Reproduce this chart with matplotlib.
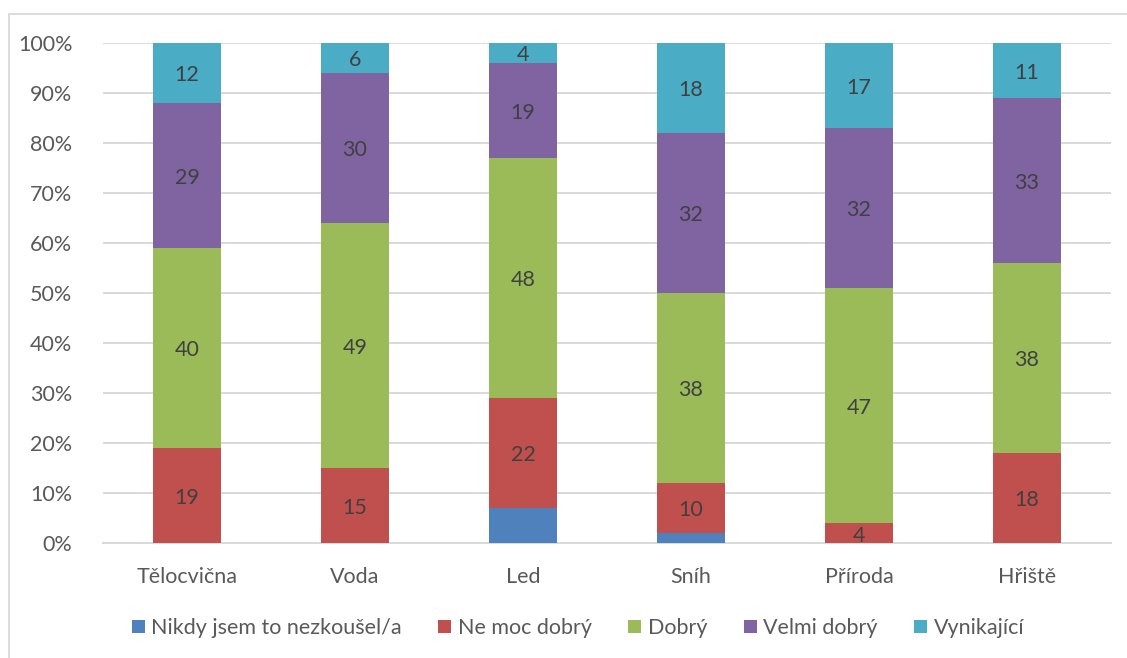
import matplotlib
matplotlib.use("Agg")
import matplotlib.pyplot as plt
from matplotlib.patches import Rectangle
from matplotlib.ticker import PercentFormatter
import numpy as np

categories = ["Tělocvična", "Voda", "Led", "Sníh", "Příroda", "Hřiště"]
series_names = ["Nikdy jsem to nezkoušel/a", "Ne moc dobrý", "Dobrý", "Velmi dobrý", "Vynikající"]
nikdy = [0, 0, 7, 2, 0, 0]
ne_moc = [19, 15, 22, 10, 4, 18]
dobry = [40, 49, 48, 38, 47, 38]
velmi = [29, 30, 19, 32, 32, 33]
vynikajici = [12, 6, 4, 18, 17, 11]
series = [nikdy, ne_moc, dobry, velmi, vynikajici]
colors = ["#4F81BD", "#C0504D", "#9BBB59", "#8064A2", "#4BACC6"]
show_labels = [False, True, True, True, True]

plt.rcParams["font.family"] = ["Lato", "DejaVu Sans"]
FS = 15.5

fig = plt.figure(figsize=(11.27, 6.58), dpi=100)
ax = fig.add_axes([103 / 1127, 1 - 543 / 658, (1111 - 103) / 1127, 500 / 658])

# outer chart frame
fig.patches.append(Rectangle((9 / 1127, -0.05), 1.1, 1 - 14 / 658 + 0.05,
                             transform=fig.transFigure, fill=False,
                             edgecolor="#D9D9D9", linewidth=1.3))

x = np.arange(len(categories))
bottom = np.zeros(len(categories))
for name, vals, col, lab in zip(series_names, series, colors, show_labels):
    vals = np.array(vals, dtype=float)
    ax.bar(x, vals, 0.4, bottom=bottom, color=col, label=name, zorder=3)
    if lab:
        for xi, b, v in zip(x, bottom, vals):
            if v > 0:
                ax.text(xi, b + v / 2 - 0.5, f"{int(v)}", ha="center", va="center",
                        fontsize=FS, color="#404040", zorder=4)
    bottom += vals

ax.set_xlim(-0.5, len(categories) - 0.5)
ax.set_ylim(0, 100)
ax.set_yticks(np.arange(0, 101, 10))
ax.yaxis.set_major_formatter(PercentFormatter(decimals=0))
ax.set_xticks(x)
ax.set_xticklabels(categories)
ax.grid(axis="y", color="#D9D9D9", linewidth=1.4, zorder=0)
for s in ["top", "right", "left"]:
    ax.spines[s].set_visible(False)
ax.spines["bottom"].set_color("#D9D9D9")
ax.spines["bottom"].set_linewidth(1.4)
ax.tick_params(axis="both", length=0, labelsize=FS, labelcolor="#595959")
ax.tick_params(axis="y", pad=22)
ax.tick_params(axis="x", pad=17)

handles, labels = ax.get_legend_handles_labels()
fig.legend(handles, labels, loc="center", bbox_to_anchor=(578 / 1127, 1 - 628 / 658),
           ncol=5, frameon=False, fontsize=FS, labelcolor="#595959",
           handlelength=0.6, handleheight=0.6, handletextpad=0.3, columnspacing=1.7)

fig.savefig("out.png", dpi=100, facecolor="white")
